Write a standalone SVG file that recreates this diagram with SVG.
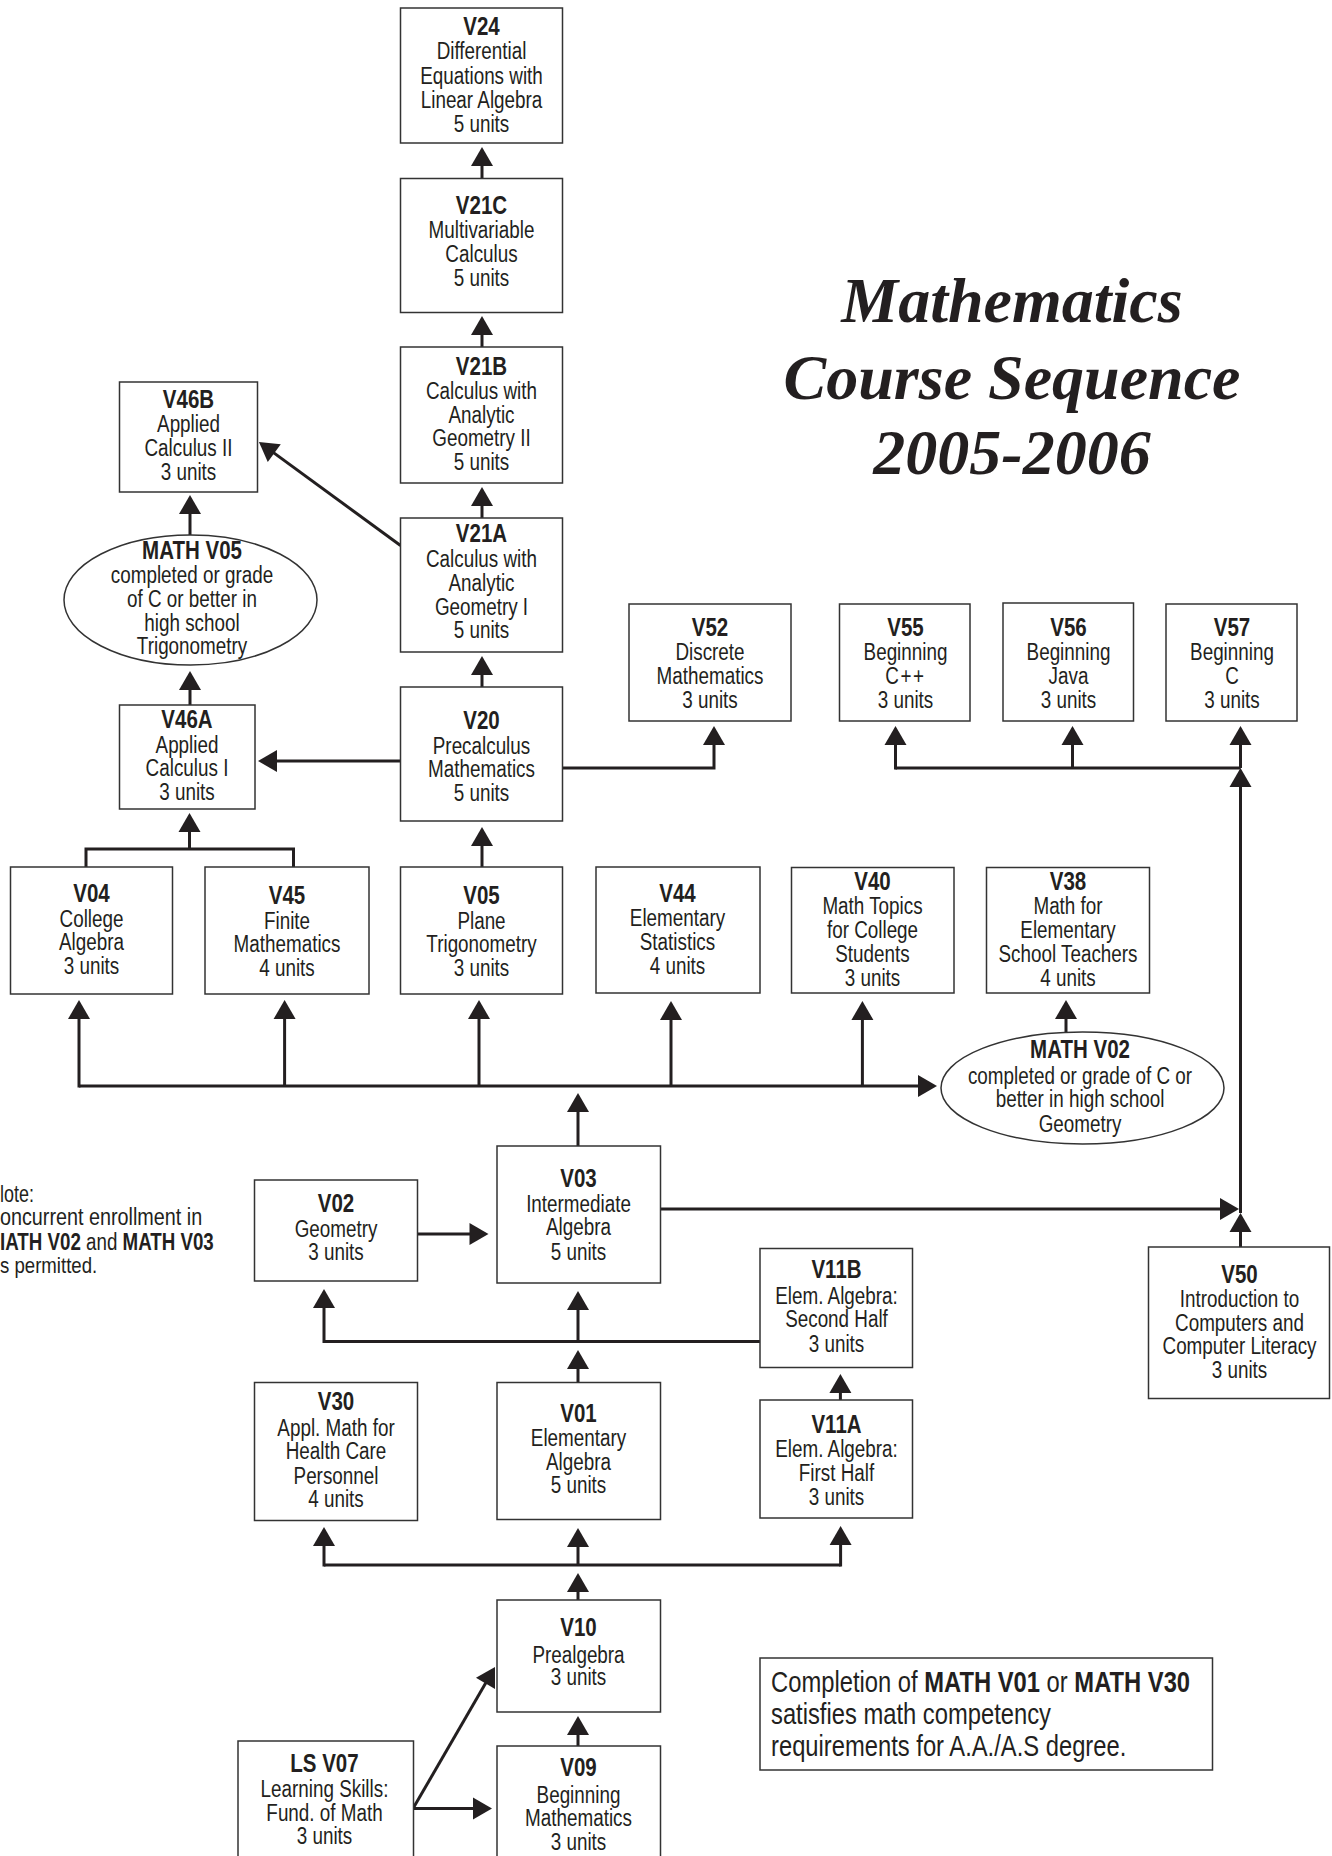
<svg xmlns="http://www.w3.org/2000/svg" width="1332" height="1856" viewBox="0 0 1332 1856">
<style>
.box{fill:#fff;stroke:#333;stroke-width:1.5}
.t{font-family:"Liberation Sans",Arial,sans-serif;font-size:23px;fill:#231f20;text-anchor:middle}
.l{text-anchor:start}
.b{font-weight:bold;font-size:25px}
.bb{font-weight:bold}
.c{fill:none;stroke:#231f20;stroke-width:3}
.title{font-family:"Liberation Serif","Times New Roman",serif;font-size:64px;font-weight:bold;font-style:italic;fill:#231f20;text-anchor:middle}
</style>
<defs>
<marker id="ah" markerUnits="userSpaceOnUse" markerWidth="19" markerHeight="22" viewBox="0 0 19 22" refX="12" refY="11" orient="auto" overflow="visible">
<path d="M0,0 L19,11 L0,22 Z" fill="#231f20"/>
</marker>
</defs>
<rect x="0" y="0" width="1332" height="1856" fill="#fff"/>

<g id="title">
<text class="title" x="1012" y="322">Mathematics</text>
<text class="title" x="1012" y="399">Course Sequence</text>
<text class="title" x="1012" y="474">2005-2006</text>
</g>

<g id="connectors">
<path class="c" d="M482,178.5 V154" marker-end="url(#ah)"/>
<path class="c" d="M482,347 V323" marker-end="url(#ah)"/>
<path class="c" d="M482,518 V494" marker-end="url(#ah)"/>
<path class="c" d="M482,687 V663" marker-end="url(#ah)"/>
<path class="c" d="M400.5,545.5 L264.6,446.1" marker-end="url(#ah)"/>
<path class="c" d="M190,535 V502" marker-end="url(#ah)"/>
<path class="c" d="M190,705 V678" marker-end="url(#ah)"/>
<path class="c" d="M400.5,761 H265" marker-end="url(#ah)"/>
<path class="c" d="M562.5,768 H714 V733" marker-end="url(#ah)"/>
<path class="c" d="M86,867 V849 H293.5 V867"/>
<path class="c" d="M189.5,849 V820" marker-end="url(#ah)"/>
<path class="c" d="M482,867 V834" marker-end="url(#ah)"/>
<path class="c" d="M79,1086 H930" marker-end="url(#ah)"/>
<path class="c" d="M79,1087.5 V1007" marker-end="url(#ah)"/>
<path class="c" d="M284.6,1086 V1007" marker-end="url(#ah)"/>
<path class="c" d="M479,1086 V1007" marker-end="url(#ah)"/>
<path class="c" d="M671,1086 V1008" marker-end="url(#ah)"/>
<path class="c" d="M862.4,1086 V1008" marker-end="url(#ah)"/>
<path class="c" d="M578,1146 V1100" marker-end="url(#ah)"/>
<path class="c" d="M1066,1032 V1007" marker-end="url(#ah)"/>
<path class="c" d="M660.5,1209 H1232" marker-end="url(#ah)"/>
<path class="c" d="M1240.5,1247 V1220" marker-end="url(#ah)"/>
<path class="c" d="M1240.5,1213 V775" marker-end="url(#ah)"/>
<path class="c" d="M895.5,768 H1240.5"/>
<path class="c" d="M895.5,769.5 V733" marker-end="url(#ah)"/>
<path class="c" d="M1072.5,768 V733" marker-end="url(#ah)"/>
<path class="c" d="M1240.5,768 V733" marker-end="url(#ah)"/>
<path class="c" d="M417.5,1234 H481.5" marker-end="url(#ah)"/>
<path class="c" d="M760,1341.6 H324 V1296" marker-end="url(#ah)"/>
<path class="c" d="M578,1341.6 V1298" marker-end="url(#ah)"/>
<path class="c" d="M578,1382.6 V1357" marker-end="url(#ah)"/>
<path class="c" d="M840.4,1400 V1381" marker-end="url(#ah)"/>
<path class="c" d="M578,1600 V1580" marker-end="url(#ah)"/>
<path class="c" d="M324,1565 H840.6"/>
<path class="c" d="M324,1566.5 V1534" marker-end="url(#ah)"/>
<path class="c" d="M578,1565 V1535" marker-end="url(#ah)"/>
<path class="c" d="M840.6,1566.5 V1533" marker-end="url(#ah)"/>
<path class="c" d="M578,1746 V1723" marker-end="url(#ah)"/>
<path class="c" d="M413,1808.6 H485" marker-end="url(#ah)"/>
<path class="c" d="M413,1808.6 L491.5,1673" marker-end="url(#ah)"/>
</g>

<g id="V24"><rect class="box" x="400.5" y="8" width="162" height="135"/>
<text class="t" transform="translate(481.5,0) scale(0.82,1)"><tspan class="b" x="0" y="35">V24</tspan><tspan x="0" y="59.5">Differential</tspan><tspan x="0" y="84">Equations with</tspan><tspan x="0" y="108">Linear Algebra</tspan><tspan x="0" y="132">5 units</tspan></text></g>

<g id="V21C"><rect class="box" x="400.5" y="178.5" width="162" height="134"/>
<text class="t" transform="translate(481.5,0) scale(0.82,1)"><tspan class="b" x="0" y="214">V21C</tspan><tspan x="0" y="238">Multivariable</tspan><tspan x="0" y="262">Calculus</tspan><tspan x="0" y="286">5 units</tspan></text></g>

<g id="V21B"><rect class="box" x="400.5" y="347" width="162" height="136"/>
<text class="t" transform="translate(481.5,0) scale(0.82,1)"><tspan class="b" x="0" y="375">V21B</tspan><tspan x="0" y="399">Calculus with</tspan><tspan x="0" y="423">Analytic</tspan><tspan x="0" y="446">Geometry II</tspan><tspan x="0" y="470">5 units</tspan></text></g>

<g id="V21A"><rect class="box" x="400.5" y="518" width="162" height="134"/>
<text class="t" transform="translate(481.5,0) scale(0.82,1)"><tspan class="b" x="0" y="542">V21A</tspan><tspan x="0" y="567">Calculus with</tspan><tspan x="0" y="591">Analytic</tspan><tspan x="0" y="615">Geometry I</tspan><tspan x="0" y="638">5 units</tspan></text></g>

<g id="V20"><rect class="box" x="400.5" y="687" width="162" height="134"/>
<text class="t" transform="translate(481.5,0) scale(0.82,1)"><tspan class="b" x="0" y="729">V20</tspan><tspan x="0" y="754.5">Precalculus</tspan><tspan x="0" y="777.5">Mathematics</tspan><tspan x="0" y="801.5">5 units</tspan></text></g>

<g id="V46B"><rect class="box" x="119.5" y="382" width="138" height="110"/>
<text class="t" transform="translate(188.5,0) scale(0.82,1)"><tspan class="b" x="0" y="408">V46B</tspan><tspan x="0" y="432">Applied</tspan><tspan x="0" y="456">Calculus II</tspan><tspan x="0" y="480">3 units</tspan></text></g>

<g id="MATHV05"><ellipse class="box" cx="190.5" cy="600" rx="126.5" ry="65"/>
<text class="t" transform="translate(192,0) scale(0.82,1)"><tspan class="b" x="0" y="559">MATH V05</tspan><tspan x="0" y="583">completed or grade</tspan><tspan x="0" y="607">of C or better in</tspan><tspan x="0" y="631">high school</tspan><tspan x="0" y="654">Trigonometry</tspan></text></g>

<g id="V46A"><rect class="box" x="119.5" y="705" width="135.5" height="104"/>
<text class="t" transform="translate(187,0) scale(0.82,1)"><tspan class="b" x="0" y="728">V46A</tspan><tspan x="0" y="753">Applied</tspan><tspan x="0" y="776">Calculus I</tspan><tspan x="0" y="800.5">3 units</tspan></text></g>

<g id="V52"><rect class="box" x="629" y="604" width="162" height="117"/>
<text class="t" transform="translate(710,0) scale(0.82,1)"><tspan class="b" x="0" y="636">V52</tspan><tspan x="0" y="660.5">Discrete</tspan><tspan x="0" y="684.5">Mathematics</tspan><tspan x="0" y="708">3 units</tspan></text></g>

<g id="V55"><rect class="box" x="839.5" y="604" width="130.5" height="117"/>
<text class="t" transform="translate(905.5,0) scale(0.82,1)"><tspan class="b" x="0" y="636">V55</tspan><tspan x="0" y="660.5">Beginning</tspan><tspan x="0" y="684.5" letter-spacing="2">C++</tspan><tspan x="0" y="708">3 units</tspan></text></g>

<g id="V56"><rect class="box" x="1003" y="603" width="130.5" height="118"/>
<text class="t" transform="translate(1068.5,0) scale(0.82,1)"><tspan class="b" x="0" y="636">V56</tspan><tspan x="0" y="660.5">Beginning</tspan><tspan x="0" y="684.5">Java</tspan><tspan x="0" y="708">3 units</tspan></text></g>

<g id="V57"><rect class="box" x="1166" y="604" width="131" height="117"/>
<text class="t" transform="translate(1232,0) scale(0.82,1)"><tspan class="b" x="0" y="636">V57</tspan><tspan x="0" y="660.5">Beginning</tspan><tspan x="0" y="684.5">C</tspan><tspan x="0" y="708">3 units</tspan></text></g>

<g id="V04"><rect class="box" x="10.5" y="867" width="162" height="127"/>
<text class="t" transform="translate(91.5,0) scale(0.82,1)"><tspan class="b" x="0" y="902">V04</tspan><tspan x="0" y="927">College</tspan><tspan x="0" y="950.5">Algebra</tspan><tspan x="0" y="974.5">3 units</tspan></text></g>

<g id="V45"><rect class="box" x="205" y="867" width="164" height="127"/>
<text class="t" transform="translate(287,0) scale(0.82,1)"><tspan class="b" x="0" y="904">V45</tspan><tspan x="0" y="929">Finite</tspan><tspan x="0" y="952.5">Mathematics</tspan><tspan x="0" y="976.5">4 units</tspan></text></g>

<g id="V05"><rect class="box" x="400.5" y="867" width="162" height="127"/>
<text class="t" transform="translate(481.5,0) scale(0.82,1)"><tspan class="b" x="0" y="904">V05</tspan><tspan x="0" y="929">Plane</tspan><tspan x="0" y="952.5">Trigonometry</tspan><tspan x="0" y="976.5">3 units</tspan></text></g>

<g id="V44"><rect class="box" x="596" y="867" width="164" height="126"/>
<text class="t" transform="translate(677.5,0) scale(0.82,1)"><tspan class="b" x="0" y="902.5">V44</tspan><tspan x="0" y="926.5">Elementary</tspan><tspan x="0" y="950">Statistics</tspan><tspan x="0" y="974">4 units</tspan></text></g>

<g id="V40"><rect class="box" x="791.5" y="867.5" width="162.5" height="125.5"/>
<text class="t" transform="translate(872.5,0) scale(0.82,1)"><tspan class="b" x="0" y="890.5">V40</tspan><tspan x="0" y="914.5">Math Topics</tspan><tspan x="0" y="938">for College</tspan><tspan x="0" y="962">Students</tspan><tspan x="0" y="986">3 units</tspan></text></g>

<g id="V38"><rect class="box" x="986.5" y="867.5" width="163" height="125.5"/>
<text class="t" transform="translate(1068,0) scale(0.82,1)"><tspan class="b" x="0" y="890.5">V38</tspan><tspan x="0" y="914.5">Math for</tspan><tspan x="0" y="938">Elementary</tspan><tspan x="0" y="962">School Teachers</tspan><tspan x="0" y="986">4 units</tspan></text></g>

<g id="MATHV02"><ellipse class="box" cx="1082.5" cy="1088" rx="141.5" ry="56"/>
<text class="t" transform="translate(1080,0) scale(0.82,1)"><tspan class="b" x="0" y="1058">MATH V02</tspan><tspan x="0" y="1084">completed or grade of C or</tspan><tspan x="0" y="1107">better in high school</tspan><tspan x="0" y="1132">Geometry</tspan></text></g>

<g id="note">
<text class="t l" transform="scale(0.78,1)" x="0" y="1202">lote:</text>
<text class="t l" transform="scale(0.86,1)" x="0" y="1225">oncurrent enrollment in</text>
<text class="t l" transform="scale(0.815,1)" x="0" y="1250"><tspan class="bb">IATH V02</tspan> and <tspan class="bb">MATH V03</tspan></text>
<text class="t l" transform="scale(0.81,1)" x="0" y="1273">s permitted.</text>
</g>

<g id="V02"><rect class="box" x="254.5" y="1180" width="163" height="101"/>
<text class="t" transform="translate(336,0) scale(0.82,1)"><tspan class="b" x="0" y="1212">V02</tspan><tspan x="0" y="1237">Geometry</tspan><tspan x="0" y="1260">3 units</tspan></text></g>

<g id="V03"><rect class="box" x="497" y="1146" width="163.5" height="137"/>
<text class="t" transform="translate(578.5,0) scale(0.82,1)"><tspan class="b" x="0" y="1187">V03</tspan><tspan x="0" y="1212">Intermediate</tspan><tspan x="0" y="1235">Algebra</tspan><tspan x="0" y="1260">5 units</tspan></text></g>

<g id="V11B"><rect class="box" x="760" y="1248.5" width="152.5" height="119"/>
<text class="t" transform="translate(836.5,0) scale(0.82,1)"><tspan class="b" x="0" y="1278">V11B</tspan><tspan x="0" y="1304">Elem. Algebra:</tspan><tspan x="0" y="1327">Second Half</tspan><tspan x="0" y="1352">3 units</tspan></text></g>

<g id="V50"><rect class="box" x="1148.5" y="1247" width="181" height="151.5"/>
<text class="t" transform="translate(1239.5,0) scale(0.82,1)"><tspan class="b" x="0" y="1283">V50</tspan><tspan x="0" y="1307">Introduction to</tspan><tspan x="0" y="1331">Computers and</tspan><tspan x="0" y="1354.5">Computer Literacy</tspan><tspan x="0" y="1378.5">3 units</tspan></text></g>

<g id="V30"><rect class="box" x="254.5" y="1382.5" width="163" height="138"/>
<text class="t" transform="translate(336,0) scale(0.82,1)"><tspan class="b" x="0" y="1410.5">V30</tspan><tspan x="0" y="1436">Appl. Math for</tspan><tspan x="0" y="1459.5">Health Care</tspan><tspan x="0" y="1484">Personnel</tspan><tspan x="0" y="1507">4 units</tspan></text></g>

<g id="V01"><rect class="box" x="497" y="1382.5" width="163.5" height="137"/>
<text class="t" transform="translate(578.5,0) scale(0.82,1)"><tspan class="b" x="0" y="1422">V01</tspan><tspan x="0" y="1446">Elementary</tspan><tspan x="0" y="1470">Algebra</tspan><tspan x="0" y="1493.5">5 units</tspan></text></g>

<g id="V11A"><rect class="box" x="760" y="1400" width="152.5" height="118"/>
<text class="t" transform="translate(836.5,0) scale(0.82,1)"><tspan class="b" x="0" y="1433">V11A</tspan><tspan x="0" y="1457">Elem. Algebra:</tspan><tspan x="0" y="1481">First Half</tspan><tspan x="0" y="1505">3 units</tspan></text></g>

<g id="V10"><rect class="box" x="497" y="1600" width="163.5" height="112"/>
<text class="t" transform="translate(578.5,0) scale(0.82,1)"><tspan class="b" x="0" y="1636.5">V10</tspan><tspan x="0" y="1663">Prealgebra</tspan><tspan x="0" y="1685">3 units</tspan></text></g>

<g id="V09"><rect class="box" x="497" y="1746" width="163.5" height="130"/>
<text class="t" transform="translate(578.5,0) scale(0.82,1)"><tspan class="b" x="0" y="1776.5">V09</tspan><tspan x="0" y="1803">Beginning</tspan><tspan x="0" y="1826">Mathematics</tspan><tspan x="0" y="1850">3 units</tspan></text></g>

<g id="LSV07"><rect class="box" x="238" y="1741" width="175.5" height="135"/>
<text class="t" transform="translate(324.5,0) scale(0.82,1)"><tspan class="b" x="0" y="1772.5">LS V07</tspan><tspan x="0" y="1797">Learning Skills:</tspan><tspan x="0" y="1821">Fund. of Math</tspan><tspan x="0" y="1844.5">3 units</tspan></text></g>

<g id="completion"><rect class="box" x="760" y="1658" width="452.5" height="112"/>
<text class="t l" style="font-size:29px" transform="translate(771,0) scale(0.82,1)"><tspan x="0" y="1692">Completion of <tspan class="bb">MATH V01</tspan> or <tspan class="bb">MATH V30</tspan></tspan><tspan x="0" y="1724">satisfies math competency</tspan><tspan x="0" y="1756">requirements for A.A./A.S degree.</tspan></text></g>
</svg>
